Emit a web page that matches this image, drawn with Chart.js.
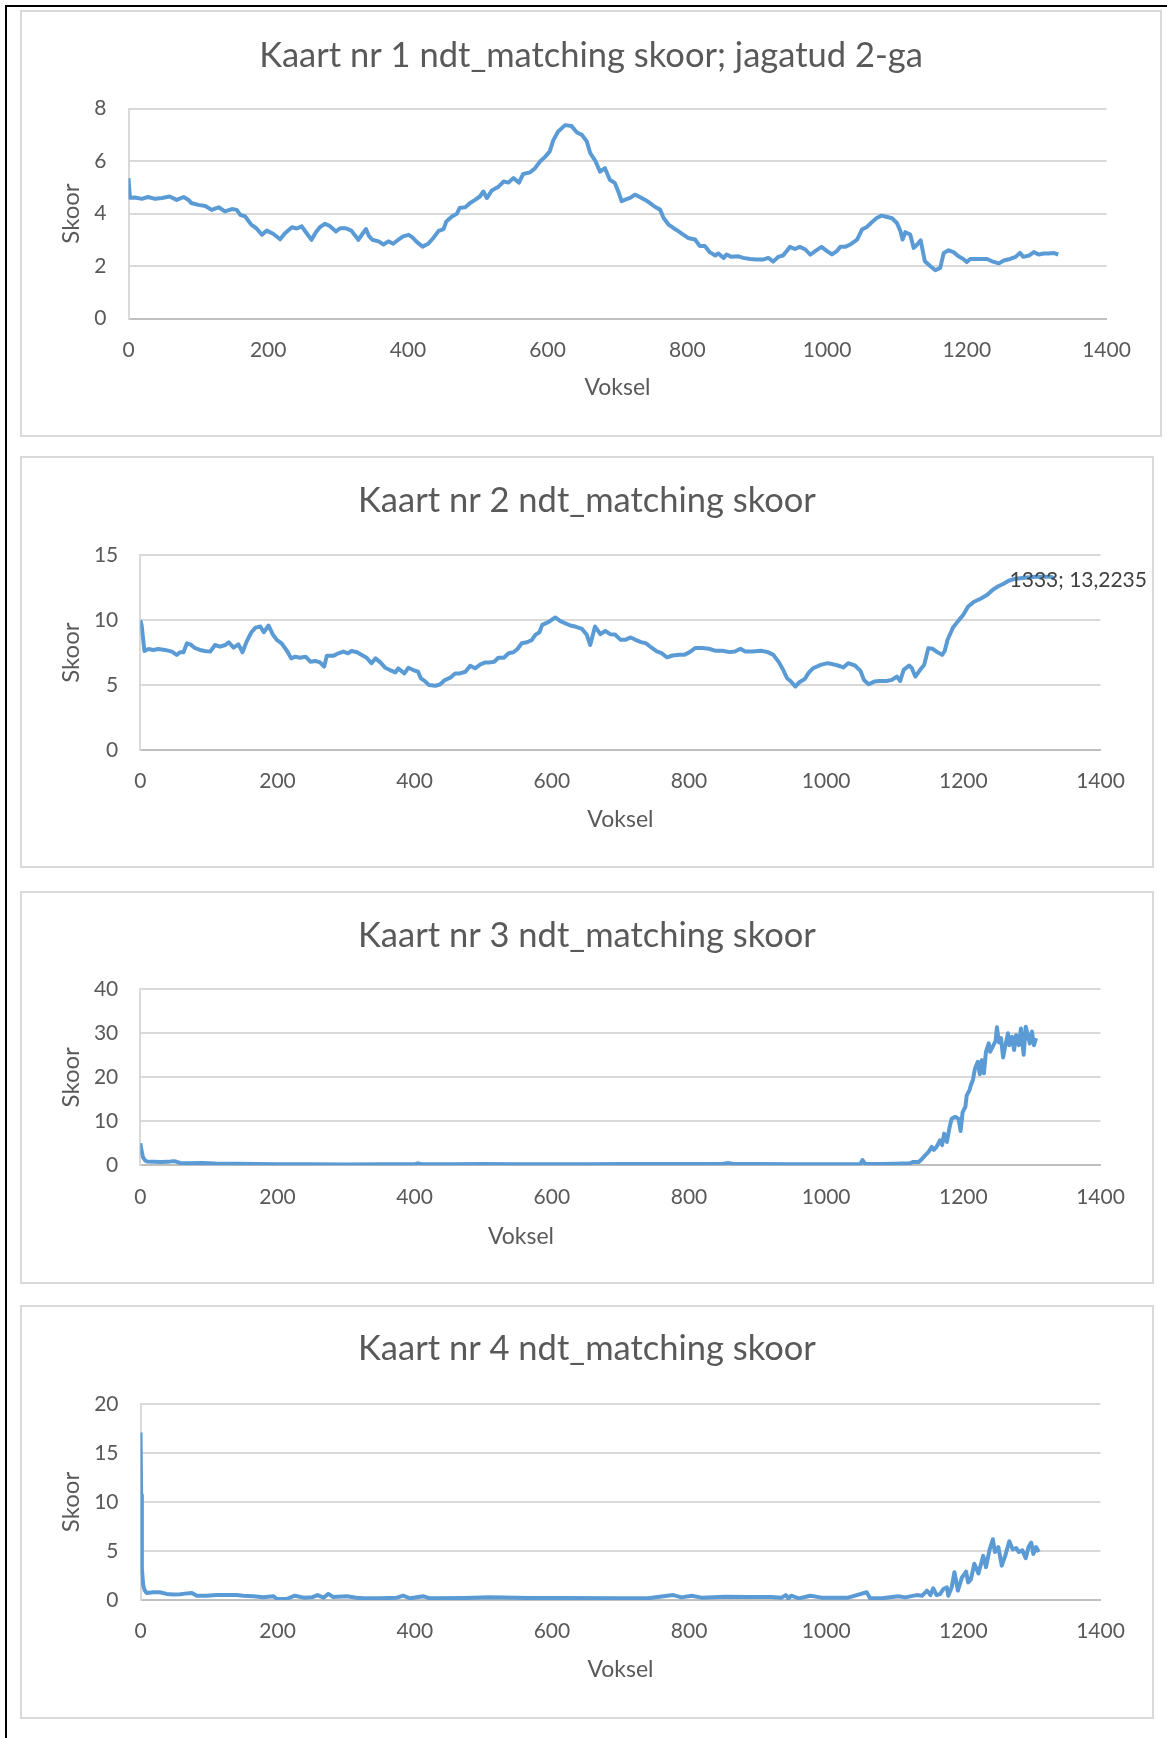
<!DOCTYPE html>
<html>
<head>
<meta charset="utf-8">
<script src="https://cdn.jsdelivr.net/npm/chart.js@4.4.1/dist/chart.umd.min.js"></script>
<style>
  html, body { margin: 0; padding: 0; background: #fff; }
  body { width: 1167px; height: 1738px; position: relative; overflow: hidden; }
  .frame-top { position: absolute; left: 5px; top: 5px; width: 1162px; height: 2px; background: #000; }
  .frame-left { position: absolute; left: 5px; top: 5px; width: 2px; height: 1733px; background: #000; }
  .card { position: absolute; background: #fff; box-shadow: inset 0 0 0 2px #d9d9d9; }
  .card canvas { position: absolute; left: 0; top: 0; }
</style>
</head>
<body>
<div class="frame-top"></div>
<div class="frame-left"></div>
<div class="card" id="card1"><canvas id="c1"></canvas></div>
<div class="card" id="card2"><canvas id="c2"></canvas></div>
<div class="card" id="card3"><canvas id="c3"></canvas></div>
<div class="card" id="card4"><canvas id="c4"></canvas></div>
<script>
// ---- data ----
const xTicks = [0, 200, 400, 600, 800, 1000, 1200, 1400];
const yTicks1 = [0, 2, 4, 6, 8];
const yTicks2 = [0, 5, 10, 15];
const yTicks3 = [0, 10, 20, 30, 40];
const yTicks4 = [0, 5, 10, 15, 20];

const titles = [
  'Kaart nr 1 ndt_matching skoor; jagatud 2-ga',
  'Kaart nr 2 ndt_matching skoor',
  'Kaart nr 3 ndt_matching skoor',
  'Kaart nr 4 ndt_matching skoor'
];
const xAxisTitle = 'Voksel';
const yAxisTitle = 'Skoor';

// Kaart 1 (score divided by 2)
const voxel1 = [0, 2, 9, 19, 28, 38, 48, 59, 69, 79, 86, 90, 100, 110, 119, 129, 138, 148, 155, 160, 167, 176, 183, 191, 198, 207, 217, 224, 234, 241, 248, 255, 262, 268, 274, 281, 288, 297, 303, 311, 319, 329, 335, 340, 344, 349, 358, 365, 372, 379, 386, 393, 401, 406, 413, 421, 429, 436, 444, 451, 455, 463, 470, 474, 482, 489, 496, 503, 508, 513, 520, 529, 537, 544, 551, 559, 565, 575, 582, 589, 596, 603, 608, 615, 625, 634, 642, 649, 656, 661, 668, 675, 682, 689, 696, 701, 706, 711, 718, 725, 732, 739, 746, 754, 761, 766, 773, 780, 787, 794, 801, 811, 818, 825, 832, 840, 844, 852, 856, 863, 873, 880, 890, 899, 909, 916, 923, 930, 937, 947, 954, 961, 969, 976, 983, 992, 1000, 1007, 1014, 1019, 1026, 1033, 1043, 1050, 1057, 1064, 1071, 1078, 1086, 1093, 1100, 1105, 1108, 1112, 1119, 1124, 1129, 1134, 1140, 1148, 1155, 1162, 1167, 1174, 1181, 1188, 1195, 1200, 1205, 1215, 1229, 1236, 1246, 1253, 1262, 1270, 1276, 1281, 1289, 1296, 1303, 1310, 1317, 1324, 1331];
const score1 = [5.35, 4.6, 4.61, 4.56, 4.63, 4.56, 4.59, 4.65, 4.52, 4.63, 4.52, 4.40, 4.33, 4.29, 4.14, 4.24, 4.08, 4.17, 4.14, 3.95, 3.89, 3.57, 3.44, 3.19, 3.35, 3.23, 3.02, 3.25, 3.48, 3.43, 3.51, 3.25, 3.00, 3.28, 3.48, 3.61, 3.53, 3.32, 3.44, 3.44, 3.35, 3.00, 3.23, 3.41, 3.15, 3.00, 2.94, 2.82, 2.94, 2.85, 3.00, 3.13, 3.19, 3.10, 2.91, 2.74, 2.85, 3.06, 3.34, 3.41, 3.70, 3.89, 3.99, 4.21, 4.24, 4.40, 4.52, 4.65, 4.84, 4.59, 4.88, 5.01, 5.22, 5.18, 5.35, 5.18, 5.51, 5.57, 5.73, 5.98, 6.15, 6.37, 6.79, 7.13, 7.37, 7.34, 7.09, 7.00, 6.75, 6.30, 6.02, 5.60, 5.73, 5.29, 5.17, 4.85, 4.47, 4.53, 4.60, 4.72, 4.63, 4.53, 4.41, 4.25, 4.15, 3.83, 3.58, 3.45, 3.33, 3.20, 3.07, 3.01, 2.76, 2.76, 2.53, 2.40, 2.48, 2.31, 2.44, 2.35, 2.37, 2.31, 2.27, 2.25, 2.25, 2.31, 2.17, 2.35, 2.40, 2.73, 2.65, 2.73, 2.63, 2.43, 2.57, 2.73, 2.57, 2.44, 2.57, 2.73, 2.73, 2.82, 3.01, 3.39, 3.49, 3.67, 3.83, 3.92, 3.87, 3.82, 3.64, 3.33, 3.01, 3.29, 3.20, 2.69, 2.82, 2.98, 2.18, 1.99, 1.84, 1.93, 2.50, 2.60, 2.53, 2.37, 2.27, 2.15, 2.27, 2.27, 2.27, 2.18, 2.10, 2.21, 2.27, 2.35, 2.50, 2.35, 2.40, 2.53, 2.44, 2.48, 2.48, 2.50, 2.44];

// Kaart 2
const voxel2 = [0, 2, 6, 12, 19, 26, 36, 46, 53, 58, 63, 68, 73, 80, 87, 94, 102, 109, 116, 124, 129, 136, 143, 149, 155, 162, 168, 175, 180, 187, 193, 199, 206, 214, 220, 226, 233, 241, 248, 255, 262, 268, 272, 282, 289, 296, 303, 308, 316, 323, 330, 337, 343, 350, 357, 364, 372, 376, 385, 391, 398, 405, 409, 415, 421, 430, 437, 444, 452, 459, 466, 474, 481, 488, 496, 503, 510, 516, 522, 530, 537, 544, 550, 556, 564, 571, 576, 582, 586, 595, 605, 612, 619, 627, 634, 644, 651, 656, 663, 671, 678, 685, 692, 700, 707, 715, 722, 730, 737, 745, 753, 760, 768, 776, 786, 793, 801, 809, 819, 829, 839, 849, 859, 867, 875, 882, 892, 905, 915, 923, 931, 938, 943, 948, 955, 961, 969, 974, 981, 992, 1002, 1009, 1017, 1025, 1032, 1042, 1050, 1055, 1062, 1070, 1078, 1088, 1096, 1103, 1108, 1113, 1121, 1125, 1130, 1136, 1143, 1149, 1155, 1162, 1169, 1173, 1177, 1185, 1192, 1200, 1207, 1215, 1225, 1235, 1243, 1251, 1258, 1266, 1276, 1286, 1296, 1307, 1317, 1327, 1333];
const score2 = [10.0, 9.6, 7.63, 7.78, 7.71, 7.78, 7.71, 7.58, 7.32, 7.53, 7.53, 8.22, 8.14, 7.84, 7.71, 7.63, 7.58, 8.09, 7.96, 8.09, 8.30, 7.89, 8.14, 7.53, 8.35, 9.07, 9.43, 9.51, 9.07, 9.59, 8.92, 8.48, 8.22, 7.63, 7.06, 7.19, 7.11, 7.19, 6.80, 6.86, 6.75, 6.42, 7.27, 7.27, 7.45, 7.58, 7.45, 7.63, 7.53, 7.32, 7.11, 6.68, 7.06, 6.75, 6.34, 6.16, 5.98, 6.29, 5.90, 6.34, 6.16, 6.03, 5.52, 5.31, 5.00, 4.95, 5.05, 5.39, 5.57, 5.90, 5.90, 6.03, 6.49, 6.29, 6.60, 6.75, 6.75, 6.80, 7.11, 7.11, 7.45, 7.53, 7.78, 8.22, 8.30, 8.48, 8.87, 9.07, 9.64, 9.85, 10.21, 9.95, 9.77, 9.59, 9.51, 9.33, 8.87, 8.09, 9.51, 8.92, 9.18, 8.92, 8.9, 8.5, 8.49, 8.67, 8.49, 8.31, 8.23, 7.90, 7.59, 7.46, 7.13, 7.28, 7.33, 7.33, 7.54, 7.85, 7.85, 7.80, 7.64, 7.64, 7.54, 7.59, 7.80, 7.59, 7.59, 7.64, 7.54, 7.33, 6.77, 6.10, 5.53, 5.32, 4.89, 5.22, 5.48, 5.92, 6.30, 6.56, 6.69, 6.62, 6.51, 6.36, 6.69, 6.51, 6.10, 5.40, 5.07, 5.27, 5.32, 5.32, 5.40, 5.66, 5.32, 6.17, 6.51, 6.30, 5.66, 6.10, 6.56, 7.85, 7.80, 7.54, 7.33, 7.64, 8.49, 9.44, 9.91, 10.42, 11.06, 11.40, 11.65, 11.96, 12.35, 12.61, 12.79, 13.04, 13.20, 13.25, 13.30, 13.35, 13.35, 13.35, 13.2235];

// Kaart 3
const voxel3 = [0, 2, 4, 7, 10, 20, 30, 40, 48, 52, 58, 70, 90, 110, 140, 170, 200, 250, 300, 350, 400, 405, 410, 450, 500, 550, 600, 650, 700, 750, 800, 850, 858, 865, 900, 950, 1000, 1050, 1053, 1057, 1080, 1100, 1110, 1122, 1127, 1135, 1140, 1144, 1149, 1154, 1157, 1161, 1166, 1169, 1172, 1176, 1180, 1183, 1188, 1193, 1196, 1199, 1203, 1205, 1209, 1211, 1214, 1217, 1221, 1224, 1227, 1230, 1233, 1237, 1239, 1243, 1247, 1249, 1252, 1255, 1258, 1261, 1265, 1267, 1271, 1274, 1277, 1281, 1284, 1288, 1291, 1294, 1297, 1300, 1303, 1306];
const score3 = [5.0, 3.2, 1.8, 1.1, 0.85, 0.8, 0.75, 0.78, 0.95, 0.85, 0.55, 0.45, 0.5, 0.4, 0.38, 0.3, 0.25, 0.22, 0.2, 0.22, 0.25, 0.45, 0.25, 0.22, 0.28, 0.25, 0.25, 0.25, 0.28, 0.3, 0.32, 0.35, 0.5, 0.3, 0.3, 0.25, 0.25, 0.3, 1.2, 0.3, 0.3, 0.35, 0.4, 0.45, 0.76, 0.76, 1.5, 2.2, 3.0, 4.2, 3.5, 4.2, 5.7, 4.6, 7.2, 5.3, 8.7, 10.6, 11.0, 10.6, 7.8, 12.1, 13.3, 15.9, 17.1, 18.2, 19.4, 22.0, 23.5, 20.7, 23.9, 20.9, 25.8, 27.7, 25.8, 27.0, 28.3, 31.4, 27.9, 28.9, 24.5, 27.0, 30.0, 27.3, 29.2, 26.2, 29.6, 27.3, 31.1, 25.1, 31.5, 29.6, 27.7, 30.4, 27.3, 28.9];

// Kaart 4
const voxel4 = [0, 1, 2, 4, 6, 9, 19, 28, 38, 48, 58, 65, 75, 82, 96, 111, 126, 140, 150, 165, 179, 194, 199, 213, 225, 238, 250, 258, 267, 274, 281, 301, 315, 325, 349, 374, 383, 393, 413, 422, 471, 510, 568, 617, 699, 740, 777, 789, 804, 818, 853, 887, 920, 935, 941, 945, 949, 960, 977, 993, 1032, 1059, 1064, 1081, 1105, 1115, 1132, 1140, 1147, 1152, 1156, 1161, 1166, 1171, 1176, 1178, 1183, 1187, 1192, 1198, 1204, 1207, 1211, 1216, 1222, 1227, 1229, 1233, 1238, 1243, 1246, 1251, 1256, 1261, 1267, 1272, 1277, 1281, 1286, 1291, 1295, 1299, 1302, 1306, 1310];
const score4 = [17.1, 10.7, 3.2, 1.5, 1.0, 0.72, 0.79, 0.79, 0.62, 0.55, 0.58, 0.65, 0.72, 0.44, 0.44, 0.5, 0.5, 0.5, 0.44, 0.38, 0.27, 0.38, 0.1, 0.1, 0.44, 0.24, 0.27, 0.5, 0.24, 0.62, 0.31, 0.38, 0.24, 0.17, 0.17, 0.24, 0.44, 0.17, 0.38, 0.17, 0.2, 0.27, 0.2, 0.2, 0.17, 0.17, 0.5, 0.27, 0.44, 0.24, 0.34, 0.3, 0.3, 0.24, 0.5, 0.17, 0.44, 0.17, 0.44, 0.24, 0.24, 0.79, 0.17, 0.17, 0.38, 0.27, 0.5, 0.44, 0.96, 0.5, 1.2, 0.5, 0.6, 1.13, 1.3, 0.44, 1.3, 2.84, 0.96, 2.3, 2.9, 1.8, 2.1, 3.7, 2.7, 4.0, 4.5, 3.35, 5.06, 6.2, 4.9, 5.4, 3.5, 4.5, 6.0, 5.16, 5.3, 4.9, 5.06, 4.27, 5.4, 5.85, 4.7, 5.4, 4.9];

// ---- look ----
const FONT = 'Lato, "Open Sans", sans-serif';
const TEXT = '#595959';
const LINE = '#5B9BD5';
const GRID = '#D9D9D9';
const TITLE_SIZE = 34.5, TICK_SIZE = 21, AXIS_SIZE = 23, YTITLE_SIZE = 24, LH = 1.2;

// last-point label ("x; y" with decimal comma)
const lastPointLabel = {
  id: 'lastPointLabel',
  afterDatasetsDraw(chart, args, opts) {
    if (!opts || !opts.show) return;
    const meta = chart.getDatasetMeta(0);
    const el = meta.data[meta.data.length - 1];
    const pts = chart.data.datasets[0].data;
    const last = pts[pts.length - 1];
    const text = last.x + '; ' + String(last.y).replace('.', ',');
    const ctx = chart.ctx;
    ctx.save();
    ctx.font = TICK_SIZE + 'px ' + FONT;
    ctx.fillStyle = '#404040';
    ctx.textAlign = 'left';
    ctx.textBaseline = 'middle';
    ctx.fillText(text, el.x + opts.dx, el.y + opts.dy);
    ctx.restore();
  }
};

// x-axis title placed at a free position
const freeAxisTitle = {
  id: 'freeAxisTitle',
  afterDraw(chart, args, opts) {
    if (!opts || !opts.text) return;
    const ctx = chart.ctx;
    ctx.save();
    ctx.font = AXIS_SIZE + 'px ' + FONT;
    ctx.fillStyle = TEXT;
    ctx.textAlign = 'center';
    ctx.textBaseline = 'middle';
    ctx.fillText(opts.text, opts.x, opts.y);
    ctx.restore();
  }
};

const plainNumber = v => String(v);

function makeChart(spec) {
  const card = document.getElementById(spec.card);
  const [bx, by, W, H] = spec.box;
  Object.assign(card.style, { left: bx + 'px', top: by + 'px', width: W + 'px', height: H + 'px' });
  const cv = document.getElementById(spec.canvas);
  cv.width = W; cv.height = H;
  cv.style.width = W + 'px'; cv.style.height = H + 'px';

  const p = spec.plot;
  const lhT = TITLE_SIZE * LH, lhA = AXIS_SIZE * LH, lhY = YTITLE_SIZE * LH;
  const yt = spec.yTicks;
  const points = spec.x.map((v, i) => ({ x: v, y: spec.y[i] }));
  const builtInXTitle = spec.freeXTitle == null;

  return new Chart(cv, {
    type: 'line',
    data: { datasets: [{
      data: points,
      borderColor: LINE,
      borderWidth: 4,
      pointRadius: 0,
      tension: 0,
      borderJoinStyle: 'round',
      fill: false
    }] },
    options: {
      responsive: false,
      animation: false,
      events: [],
      layout: { padding: 0 },
      plugins: {
        legend: { display: false },
        tooltip: { enabled: false },
        title: {
          display: true,
          text: spec.title,
          color: TEXT,
          font: { family: FONT, size: TITLE_SIZE, weight: 'normal', lineHeight: LH },
          padding: { top: spec.titleY - lhT / 2, bottom: p.top - spec.titleY - lhT / 2 }
        },
        lastPointLabel: spec.pointLabel || { show: false },
        freeAxisTitle: spec.freeXTitle ? { text: xAxisTitle, x: spec.freeXTitle.x, y: spec.freeXTitle.y } : {}
      },
      scales: {
        x: {
          type: 'linear',
          min: xTicks[0],
          max: xTicks[xTicks.length - 1],
          afterFit(s) { s.height = H - p.bottom; },
          afterBuildTicks(s) { s.ticks = xTicks.map(v => ({ value: v })); },
          ticks: { callback: plainNumber, color: TEXT, font: { family: FONT, size: TICK_SIZE, lineHeight: LH }, padding: 19, maxRotation: 0, autoSkip: false },
          grid: { display: false, drawTicks: false },
          border: { display: true, color: '#BFBFBF', width: 2 },
          title: {
            display: builtInXTitle,
            text: xAxisTitle,
            color: TEXT,
            font: { family: FONT, size: AXIS_SIZE, lineHeight: LH },
            padding: { top: 0, bottom: H - spec.xTitleY - lhA / 2 }
          }
        },
        y: {
          min: yt[0],
          max: yt[yt.length - 1],
          afterFit(s) { s.width = p.left; },
          afterBuildTicks(s) { s.ticks = yt.map(v => ({ value: v })); },
          ticks: { callback: plainNumber, color: TEXT, font: { family: FONT, size: TICK_SIZE, lineHeight: LH }, padding: 22 },
          grid: { color: GRID, lineWidth: 2, drawTicks: false },
          border: { display: true, color: GRID, width: 2 },
          title: {
            display: true,
            text: yAxisTitle,
            color: TEXT,
            font: { family: FONT, size: YTITLE_SIZE, lineHeight: LH },
            padding: { top: spec.yTitleX - lhY / 2, bottom: 0 }
          }
        },
        // empty right-hand margin so the title stays centred on the whole card
        margin: {
          type: 'linear',
          position: 'right',
          afterFit(s) { s.width = W - p.right; },
          ticks: { display: false },
          grid: { display: false, drawTicks: false },
          border: { display: false },
          title: { display: false }
        }
      }
    },
    plugins: [lastPointLabel, freeAxisTitle]
  });
}

makeChart({
  card: 'card1', canvas: 'c1', box: [20, 10, 1142, 427],
  plot: { left: 108.5, right: 1086.5, top: 98.6, bottom: 308.5 },
  title: titles[0], titleY: 46, xTitleY: 378, yTitleX: 51,
  yTicks: yTicks1, x: voxel1, y: score1
});
makeChart({
  card: 'card2', canvas: 'c2', box: [20, 456, 1134, 412],
  plot: { left: 120.3, right: 1080.5, top: 99.3, bottom: 294 },
  title: titles[1], titleY: 45, xTitleY: 364, yTitleX: 51,
  yTicks: yTicks2, x: voxel2, y: score2,
  pointLabel: { show: true, dx: -45, dy: 2 }
});
makeChart({
  card: 'card3', canvas: 'c3', box: [20, 891, 1134, 393],
  plot: { left: 120.3, right: 1080.5, top: 98.3, bottom: 274.3 },
  title: titles[2], titleY: 45, xTitleY: 346, yTitleX: 51,
  freeXTitle: { x: 501, y: 346 },
  yTicks: yTicks3, x: voxel3, y: score3
});
makeChart({
  card: 'card4', canvas: 'c4', box: [20, 1305, 1134, 414],
  plot: { left: 120.5, right: 1080.5, top: 99, bottom: 295 },
  title: titles[3], titleY: 44, xTitleY: 365, yTitleX: 51,
  yTicks: yTicks4, x: voxel4, y: score4
});
</script>
</body>
</html>
